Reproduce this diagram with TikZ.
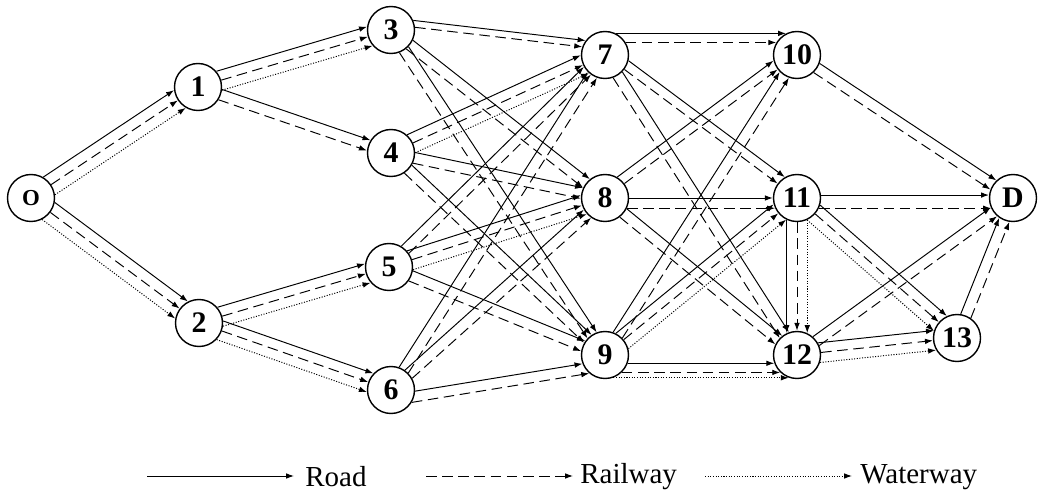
\documentclass[tikz,border=0pt]{standalone}
\usepackage{fontspec}
\setmainfont{Liberation Serif}
\usetikzlibrary{calc,arrows.meta}

\tikzset{
    hub/.style={circle,draw,line width=0.8pt,fill=white,minimum size=0.94cm,inner sep=0pt,
        font=\fontsize{17}{17}\selectfont\bfseries},
    road/.style={line width=0.55pt,-{Latex[length=4.5pt,width=3.2pt]}},
    railway/.style={road,dash pattern=on 6pt off 3.2pt},
    waterway/.style={road,line width=0.55pt,dash pattern=on 0.6pt off 0.9pt},
    legendtext/.style={anchor=west,inner sep=0pt,font=\fontsize{16.5}{16.5}\selectfont},
}

% one lane between two hubs, leaving each rim #4 degrees off the centre line
\newcommand\lane[4]{%
    \pgfmathsetmacro\laneback{-(#4)}%
    \draw[#1] ($(#2.center)!0.485cm!#4:(#3.center)$) -- ($(#3.center)!0.485cm!\laneback:(#2.center)$);%
}

\begin{document}
\begin{tikzpicture}[x=0.02cm,y=-0.02cm]
    \useasboundingbox (0,0) rectangle (1044,496);

    \node[hub,font=\fontsize{13}{13}\selectfont\bfseries] (o) at (31,198) {O};
    \node[hub] (n1) at (198,87) {1};
    \node[hub] (n2) at (199,323) {2};
    \node[hub] (n3) at (391,30) {3};
    \node[hub] (n4) at (391,153) {4};
    \node[hub] (n5) at (389,267) {5};
    \node[hub] (n6) at (391,390) {6};
    \node[hub] (n7) at (605,55) {7};
    \node[hub] (n8) at (605,198) {8};
    \node[hub] (n9) at (605,355) {9};
    \node[hub] (n10) at (797,55) {10};
    \node[hub] (n11) at (797,198) {11};
    \node[hub] (n12) at (797,355) {12};
    \node[hub] (n13) at (957,338) {13};
    \node[hub] (d) at (1013,198) {D};

    \lane{road}{o}{n1}{26}  \lane{railway}{o}{n1}{0}  \lane{waterway}{o}{n1}{-26}
    \lane{road}{o}{n2}{26}  \lane{railway}{o}{n2}{0}  \lane{waterway}{o}{n2}{-26}
    \lane{road}{n1}{n3}{24} \lane{railway}{n1}{n3}{0} \lane{waterway}{n1}{n3}{-24}
    \lane{road}{n1}{n4}{13} \lane{railway}{n1}{n4}{-13}
    \lane{road}{n2}{n5}{24} \lane{railway}{n2}{n5}{0} \lane{waterway}{n2}{n5}{-24}
    \lane{road}{n2}{n6}{24} \lane{railway}{n2}{n6}{0} \lane{waterway}{n2}{n6}{-24}

    \lane{road}{n3}{n7}{30}  \lane{railway}{n3}{n7}{13}
    \lane{road}{n3}{n8}{13}  \lane{railway}{n3}{n8}{-13}
    \lane{road}{n3}{n9}{13}  \lane{railway}{n3}{n9}{-13}
    \lane{road}{n4}{n7}{24}  \lane{railway}{n4}{n7}{0} \lane{waterway}{n4}{n7}{-24}
    \lane{road}{n4}{n8}{13}  \lane{railway}{n4}{n8}{-13}
    \lane{road}{n4}{n9}{13}  \lane{railway}{n4}{n9}{-13}
    \lane{road}{n5}{n7}{15}  \lane{railway}{n5}{n7}{-10}
    \lane{road}{n5}{n8}{24}  \lane{railway}{n5}{n8}{0} \lane{waterway}{n5}{n8}{-24}
    \lane{road}{n5}{n9}{13}  \lane{railway}{n5}{n9}{-13}
    \lane{road}{n6}{n7}{13}  \lane{railway}{n6}{n7}{-13}
    \lane{road}{n6}{n8}{13}  \lane{railway}{n6}{n8}{-13}
    \lane{road}{n6}{n9}{-12} \lane{railway}{n6}{n9}{-40}

    \lane{road}{n7}{n10}{63} \lane{railway}{n7}{n10}{31}
    \lane{road}{n7}{n11}{23} \lane{railway}{n7}{n11}{0}
    \lane{road}{n7}{n12}{13} \lane{railway}{n7}{n12}{-13}
    \lane{road}{n8}{n10}{23} \lane{railway}{n8}{n10}{0}
    \lane{road}{n8}{n11}{0}  \lane{railway}{n8}{n11}{-25}
    \lane{road}{n8}{n12}{13} \lane{railway}{n8}{n12}{-13}
    \lane{road}{n9}{n10}{13} \lane{railway}{n9}{n10}{-13}
    \lane{road}{n9}{n11}{24} \lane{railway}{n9}{n11}{0} \lane{waterway}{n9}{n11}{-24}
    \lane{road}{n9}{n12}{-20} \lane{railway}{n9}{n12}{-46} \lane{waterway}{n9}{n12}{-70}

    \lane{road}{n10}{d}{13}  \lane{railway}{n10}{d}{-13}
    \lane{road}{n11}{d}{7}   \lane{railway}{n11}{d}{-25}
    \lane{road}{n11}{n12}{-25} \lane{railway}{n11}{n12}{0} \lane{waterway}{n11}{n12}{25}
    \lane{road}{n11}{n13}{24} \lane{railway}{n11}{n13}{0} \lane{waterway}{n11}{n13}{-24}
    \lane{road}{n12}{d}{13}  \lane{railway}{n12}{d}{-13}
    \lane{road}{n12}{n13}{24} \lane{railway}{n12}{n13}{0} \lane{waterway}{n12}{n13}{-24}
    \lane{road}{n13}{d}{13}  \lane{railway}{n13}{d}{-13}

    \coordinate (roadA) at (147,476);
    \coordinate (roadB) at (294,476);
    \draw[road] (roadA) -- (roadB);
    \node[legendtext] (roadtxt) at (305,477) {Road};

    \coordinate (railA) at (426,476);
    \coordinate (railB) at (573,476);
    \draw[railway] (railA) -- (railB);
    \node[legendtext] (railtxt) at (580,477) {Railway};

    \coordinate (waterA) at (705,476);
    \coordinate (waterB) at (852,476);
    \draw[waterway] (waterA) -- (waterB);
    \node[legendtext] (watertxt) at (860,477) {Waterway};
\end{tikzpicture}
\end{document}
